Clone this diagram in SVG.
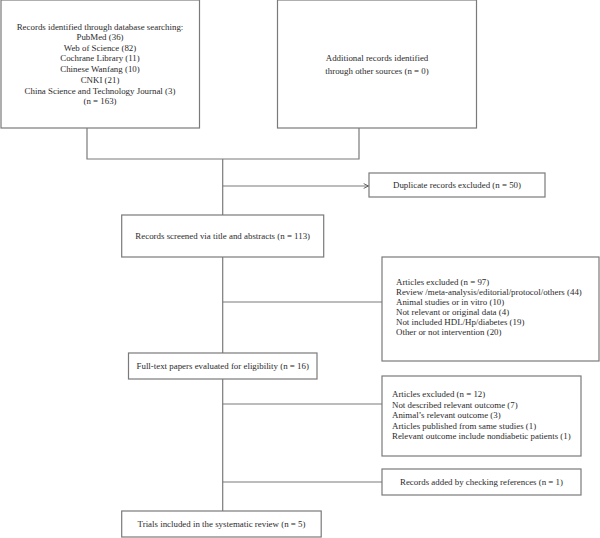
<svg xmlns="http://www.w3.org/2000/svg" width="600" height="538" viewBox="0 0 600 538">
<style>
.box{fill:#fff;stroke:#7a7a7a;stroke-width:1.2}
.ln{fill:none;stroke:#7a7a7a;stroke-width:1.2}
text{font-family:"Liberation Serif","Times New Roman",serif;font-size:8.9px;fill:#2b2b2b}
.c{text-anchor:middle}
</style>
<defs>
<marker id="arr" viewBox="0 0 10 10" refX="9" refY="5" markerWidth="6" markerHeight="6" markerUnits="userSpaceOnUse" orient="auto">
<path d="M1,1 L9,5 L1,9" fill="none" stroke="#555" stroke-width="1.5"/>
</marker>
</defs>
<rect width="600" height="538" fill="#fff"/>
<g id="connectors">
<path class="ln" d="M87,128 V159 H359 V128"/>
<path class="ln" d="M222.7,159 V215"/>
<path class="ln" d="M222.7,186 H368.5" marker-end="url(#arr)"/>
<path class="ln" d="M222.7,257 V353"/>
<path class="ln" d="M222.7,302 H382"/>
<path class="ln" d="M222.7,379 V511"/>
<path class="ln" d="M222.7,404 H382"/>
<path class="ln" d="M222.7,482 H382"/>
</g>
<g id="n1">
<rect class="box" x="1" y="0" width="198.5" height="128"/>
<text class="c" x="100" y="29.5">Records identified through database searching:</text>
<text class="c" x="100" y="39.5">PubMed (36)</text>
<text class="c" x="100" y="50.5">Web of Science (82)</text>
<text class="c" x="100" y="61.3">Cochrane Library (11)</text>
<text class="c" x="100" y="72.2">Chinese Wanfang (10)</text>
<text class="c" x="100" y="83">CNKI (21)</text>
<text class="c" x="100" y="93.7">China Science and Technology Journal (3)</text>
<text class="c" x="100" y="104.3">(n = 163)</text>
</g>
<g id="n2">
<rect class="box" x="277.5" y="0" width="199" height="128"/>
<text class="c" x="377" y="61.3">Additional records identified</text>
<text class="c" x="377" y="74">through other sources (n = 0)</text>
</g>
<g id="n3">
<rect class="box" x="369" y="173" width="176" height="24"/>
<text class="c" x="457" y="187.5">Duplicate records excluded (n = 50)</text>
</g>
<g id="n4">
<rect class="box" x="121.7" y="215" width="202" height="42"/>
<text class="c" x="222.7" y="238.5">Records screened via title and abstracts (n = 113)</text>
</g>
<g id="n5">
<rect class="box" x="382" y="257" width="217" height="104"/>
<text x="396" y="285">Articles excluded (n = 97)</text>
<text x="396" y="295">Review /meta-analysis/editorial/protocol/others (44)</text>
<text x="396" y="305">Animal studies or in vitro (10)</text>
<text x="396" y="315">Not relevant or original data (4)</text>
<text x="396" y="325">Not included HDL/Hp/diabetes (19)</text>
<text x="396" y="335">Other or not intervention (20)</text>
</g>
<g id="n6">
<rect class="box" x="128.5" y="353" width="188.5" height="26"/>
<text class="c" x="222.7" y="369">Full-text papers evaluated for eligibility (n = 16)</text>
</g>
<g id="n7">
<rect class="box" x="382" y="376" width="199" height="80"/>
<text x="392" y="397">Articles excluded (n = 12)</text>
<text x="392" y="407.5">Not described relevant outcome (7)</text>
<text x="392" y="418">Animal’s relevant outcome (3)</text>
<text x="392" y="428.5">Articles published from same studies (1)</text>
<text x="392" y="439">Relevant outcome include nondiabetic patients (1)</text>
</g>
<g id="n8">
<rect class="box" x="382" y="469" width="199" height="26"/>
<text class="c" x="481.5" y="485">Records added by checking references (n = 1)</text>
</g>
<g id="n9">
<rect class="box" x="121.7" y="511" width="199.5" height="26"/>
<text class="c" x="221.5" y="527">Trials included in the systematic review (n = 5)</text>
</g>
</svg>
